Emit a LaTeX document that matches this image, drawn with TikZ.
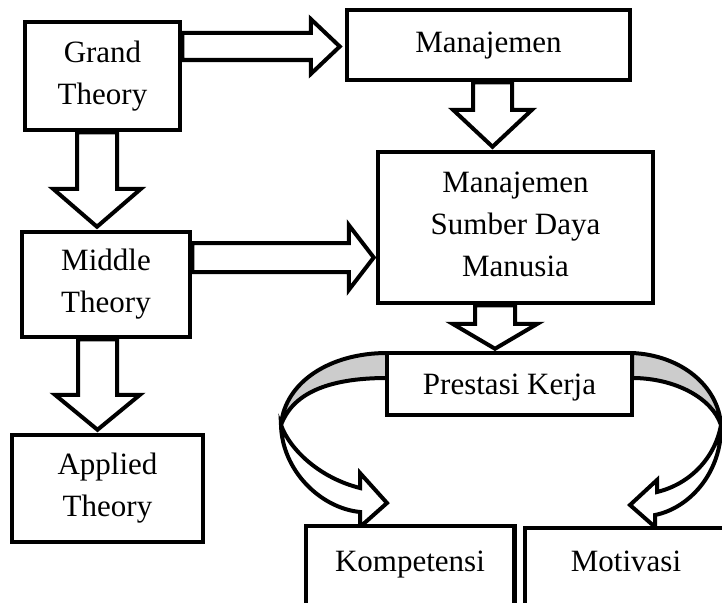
\documentclass[tikz,border=0pt]{standalone}
\usepackage{fontspec}
\setmainfont{Liberation Serif}
\usetikzlibrary{calc}
\tikzset{
  box1/.style={draw=black, line width=4.5pt, fill=white, inner sep=0pt,
    font=\fontsize{31pt}{42pt}\selectfont},
  box/.style={box1, align=center},
  openbox/.style={box1, draw=none, text height=20.5pt, text depth=6.7pt},
  side/.style={draw=black, line width=4.5pt, line join=miter},
  barrow/.style={draw=black, line width=4pt, fill=white, line join=miter, miter limit=10},
  bandback/.style={draw=black, line width=4pt, fill=black!20, line join=round},
  bandfront/.style={draw=black, line width=4pt, fill=white, line join=miter, miter limit=10}
}
\newcommand\blkdown[5]{\draw[barrow] let \p1=(#1), \p2=(#2) in
  (\x1-#3,\y1) -- (\x1-#3,\y2+#5) -- (\x1-#4,\y2+#5) -- (\x1,\y2) --
  (\x1+#4,\y2+#5) -- (\x1+#3,\y2+#5) -- (\x1+#3,\y1) -- cycle;}
\newcommand\blkright[5]{\draw[barrow] let \p1=(#1), \p2=(#2) in
  (\x1,\y1+#3) -- (\x2-#5,\y1+#3) -- (\x2-#5,\y1+#4) -- (\x2,\y1) --
  (\x2-#5,\y1-#4) -- (\x2-#5,\y1-#3) -- (\x1,\y1-#3) -- cycle;}
\begin{document}
\begin{tikzpicture}[x=1pt,y=-1pt]
\useasboundingbox (0,0) rectangle (722,602);
\clip (0,0) rectangle (722,602);
\fill[white] (0,0) rectangle (722,602);

% curved arrows (behind the boxes)
\draw[bandback] (387,353) .. controls (330,353) and (285,382) .. (281,425)
   .. controls (292,395) and (325,378) .. (387,378) -- cycle;
\draw[bandfront] (281,425) .. controls (282,470) and (320,508) .. (360,512)
   -- (360,527) -- (387,503) -- (360,473) -- (360,488)
   .. controls (320,478) and (290,450) .. (281,425) -- cycle;
\draw[bandback] (632,353) .. controls (680,355) and (718,385) .. (721,425)
   .. controls (712,398) and (675,378) .. (632,378) -- cycle;
\draw[bandfront] (721,425) .. controls (722,472) and (690,508) .. (655,515)
   -- (655,527) -- (630,505) -- (657,480) -- (657,492)
   .. controls (690,484) and (715,458) .. (721,425) -- cycle;

% boxes
\node[box, minimum width=155pt, minimum height=108pt] (grand) at (102.5,76) {Grand\\Theory};
\node[box1, minimum width=283pt, minimum height=70pt, text height=21.2pt, text depth=6.7pt] (man) at (488.5,45) {Manajemen};
\node[box, minimum width=275pt, minimum height=151pt] (msdm) at (515.5,227.5) {Manajemen\\Sumber Daya\\Manusia\vphantom{y}};
\node[box, minimum width=168pt, minimum height=105pt] (middle) at (106,284.5) {Middle\\Theory};
\node[box, minimum width=191pt, minimum height=107pt] (applied) at (107.5,488.5) {Applied\\Theory};
\node[box1, minimum width=245pt, minimum height=62pt, text height=28.5pt, text depth=6.7pt] (prestasi) at (509.5,384) {Prestasi Kerja};

% bottom boxes (cut by the lower edge of the picture)
\node[openbox, minimum width=204pt, minimum height=74pt] (komp) at (410,565) {Kompetensi};
\draw[side] ($(komp.south west)+(0,60)$) -- (komp.north west) -- (komp.north east) -- ($(komp.south east)+(0,60)$);
\node[openbox, minimum width=198pt, minimum height=70pt] (motiv) at (626,565) {Motivasi};
\draw[side] ($(motiv.south west)+(0,60)$) -- (motiv.north west) -- (motiv.north east) -- ($(motiv.south east)+(0,60)$);

% block arrows
\blkright{$(grand.east |- man.west)+(0,1.5)$}{$(man.west)+(-5,0)$}{13.5pt}{27.5pt}{29pt}
\blkdown{$(grand.south)+(-5.5,0)$}{$(middle.north)+(0,-3)$}{20pt}{44pt}{38pt}
\blkdown{$(man.south)+(4,0)$}{$(msdm.north)+(0,-3)$}{19.5pt}{39.5pt}{37pt}
\blkright{$(middle.east)+(0,-27)$}{$(msdm.west)+(-2,0)$}{14.5pt}{32.5pt}{25pt}
\blkdown{$(middle.south)+(-8.5,0)$}{$(applied.north)+(0,-3)$}{19.5pt}{42.5pt}{35pt}
\blkdown{$(msdm.south)+(-20.5,0)$}{$(prestasi.north)+(0,-2)$}{20pt}{42.5pt}{25pt}
\end{tikzpicture}
\end{document}
